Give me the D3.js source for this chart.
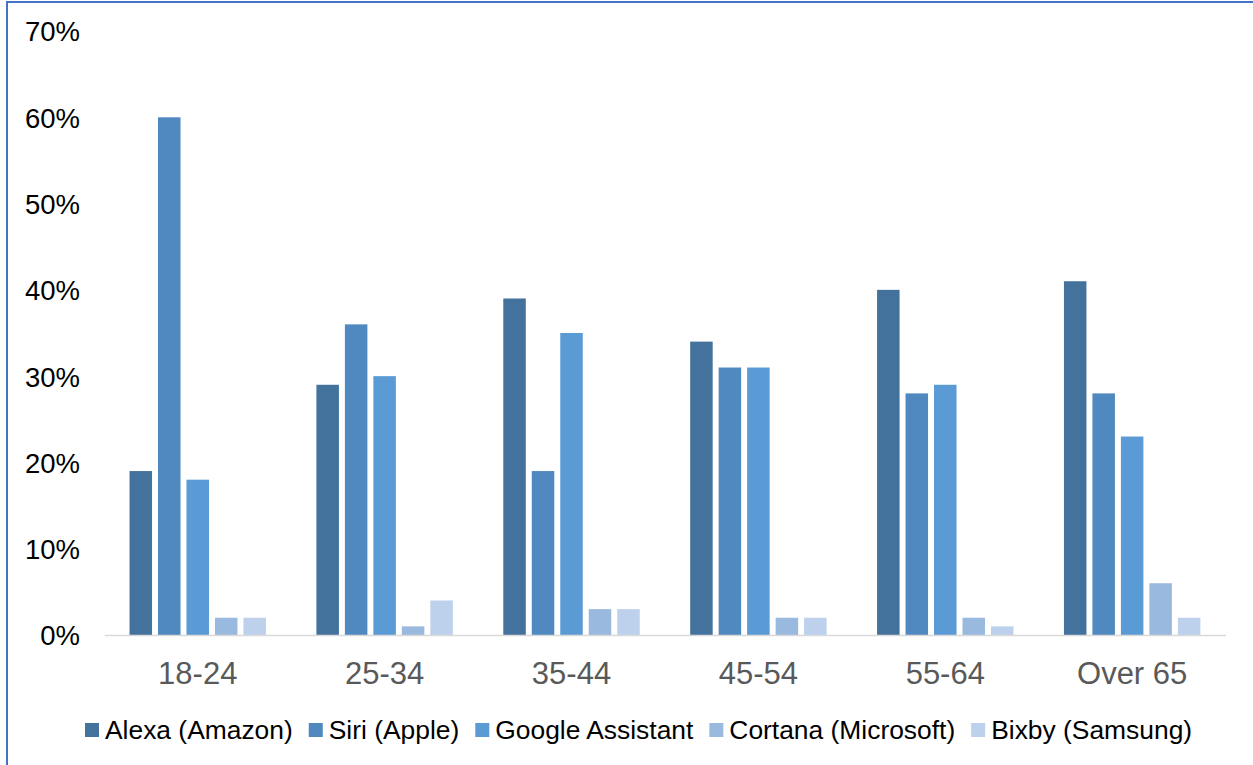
<!DOCTYPE html>
<html>
<head>
<meta charset="utf-8">
<script src="https://cdn.jsdelivr.net/npm/d3@7"></script>
<style>
  body { margin: 0; background: #fff; }
  svg { display: block; font-family: "Liberation Sans", Arial, sans-serif; }
</style>
</head>
<body>
<div id="chart"></div>
<script>

// chart data
var ageGroups = ["18-24", "25-34", "35-44", "45-54", "55-64", "Over 65"];
var assistants = ["Alexa (Amazon)", "Siri (Apple)", "Google Assistant", "Cortana (Microsoft)", "Bixby (Samsung)"];
var alexaValues = [19, 29, 39, 34, 40, 41];
var siriValues = [60, 36, 19, 31, 28, 28];
var googleValues = [18, 30, 35, 31, 29, 23];
var cortanaValues = [2, 1, 3, 2, 2, 6];
var bixbyValues = [2, 4, 3, 2, 1, 2];
var yTicks = [0, 10, 20, 30, 40, 50, 60, 70];

var colors = ["#43729d", "#4f89bf", "#5b9bd5", "#9ab9df", "#bdd1ec"];

var svgWidth = 1253;
var svgHeight = 765;

var svg = d3.select("#chart")
  .append("svg")
  .attr("width", svgWidth)
  .attr("height", svgHeight);

// blue frame (only left + top visible in the picture)
svg.append("rect")
  .attr("x", 7)
  .attr("y", 2)
  .attr("width", 1400)
  .attr("height", 900)
  .attr("fill", "none")
  .attr("stroke", "#4472c4")
  .attr("stroke-width", 2);

var seriesValues = [alexaValues, siriValues, googleValues, cortanaValues, bixbyValues];

// flatten into rows for the grouped bars
var rows = ageGroups.map(function(g, i) {
  return assistants.map(function(a, j) {
    return { group: g, series: a, idx: j, value: seriesValues[j][i] };
  });
});

var x0 = d3.scaleBand()
  .domain(ageGroups)
  .range([104.3, 1225.6])
  .paddingInner(0.27)
  .paddingOuter(0.135);

var x1 = d3.scaleBand()
  .domain(assistants)
  .range([0, x0.bandwidth()])
  .paddingInner(0.21)
  .paddingOuter(0);

var yScale = d3.scaleLinear()
  .domain([0, 70])
  .range([635, 31]);

// y axis labels
var yAxis = d3.axisLeft(yScale)
  .tickValues(yTicks)
  .tickFormat(function(d) { return d + "%"; })
  .tickSize(0)
  .tickPadding(0);

var yAxisGroup = svg.append("g")
  .attr("transform", "translate(80,0)")
  .call(yAxis);
yAxisGroup.select(".domain").remove();
yAxisGroup.selectAll("text")
  .attr("font-size", "27.5px")
  .attr("font-family", "Liberation Sans, Arial, sans-serif")
  .attr("fill", "#000")
  .attr("dy", "0.36em");

// bars
var groups = svg.selectAll(".ageGroup")
  .data(rows)
  .enter()
  .append("g")
  .attr("class", "ageGroup")
  .attr("transform", function(d) { return "translate(" + x0(d[0].group) + ",0)"; });

groups.selectAll("rect")
  .data(function(d) { return d; })
  .enter()
  .append("rect")
  .attr("x", function(d) { return x1(d.series); })
  .attr("y", function(d) { return yScale(d.value); })
  .attr("width", x1.bandwidth())
  .attr("height", function(d) { return yScale(0) - yScale(d.value); })
  .attr("fill", function(d) { return colors[d.idx]; });

// x axis line + labels
var xAxis = d3.axisBottom(x0).tickSize(0).tickPadding(0);
var xAxisGroup = svg.append("g")
  .attr("transform", "translate(0," + yScale(0) + ")")
  .call(xAxis);
xAxisGroup.select(".domain")
  .attr("stroke", "#d9d9d9")
  .attr("stroke-width", 1.5);
xAxisGroup.selectAll("text")
  .attr("font-size", "31px")
  .attr("font-family", "Liberation Sans, Arial, sans-serif")
  .attr("fill", "#595959")
  .attr("dy", null)
  .attr("y", 49);

// legend
var legend = svg.append("g").attr("class", "legend");
var legendX = 85;
assistants.forEach(function(name, j) {
  legend.append("rect")
    .attr("x", legendX)
    .attr("y", 723)
    .attr("width", 14)
    .attr("height", 14)
    .attr("fill", colors[j]);
  var t = legend.append("text")
    .attr("x", legendX + 20)
    .attr("y", 739)
    .attr("font-size", "26.4px")
    .attr("fill", "#000")
    .text(name);
  legendX += 20 + t.node().getComputedTextLength() + 16;
});

</script>
</body>
</html>
